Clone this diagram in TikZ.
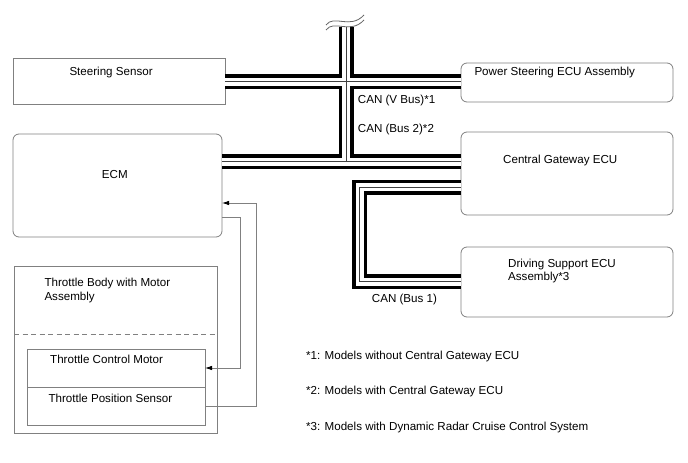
\documentclass[tikz,border=0pt]{standalone}
\usepackage{fontspec}
\setmainfont{Liberation Sans}
\usetikzlibrary{arrows.meta,calc}
\tikzset{
	box/.style={draw=black!50, line width=0.8pt, outer sep=0pt, inner sep=0pt},
	rbox/.style={box, rounded corners=6pt},
	txt/.style={inner sep=0pt, font=\fontsize{11.6}{13.3}\selectfont, align=left},
	sig/.style={draw=black!50, line width=0.8pt},
	busouter/.style={line width=15pt, black},
	businner/.style={line width=8pt, white},
	buscore/.style={line width=0.8pt, black!75},
	brk/.style={draw=black!60, line width=0.8pt},
	>={Latex[length=7pt,width=4.5pt,color=black]}
}

\begin{document}
\begin{tikzpicture}[x=1pt, y=-1pt]
	\path[fill=white, use as bounding box] (0,0) rectangle (688,463);
	\node[box, minimum width=212, minimum height=46] (ss) at (119,81) {};
	\node[rbox, minimum width=209, minimum height=103] (ecm) at (117.5,185.5) {};
	\node[rbox, minimum width=212, minimum height=39] (ps) at (567,82.5) {};
	\node[rbox, minimum width=212, minimum height=83] (cg) at (567,173.5) {};
	\node[rbox, minimum width=212, minimum height=70] (ds) at (567,282) {};
	\node[box, minimum width=203, minimum height=167] (tb) at (115.5,349.5) {};
	\node[box, minimum width=178, minimum height=38] (tcm) at (116,368) {};
	\node[box, minimum width=178, minimum height=38] (tps) at (116,406) {};
	\coordinate (dsh) at (0,334);
	\draw[box, dash pattern=on 5pt off 3.5pt] (tb.west |- dsh) -- (tb.east |- dsh);
	%	bus lines
	\coordinate (jtop) at (346,27);
	\coordinate (jx) at (346,81.5);
	\coordinate (jt) at (346,161.5);
	\coordinate (lpa) at (359.5,187);
	\coordinate (lpb) at (359.5,281.5);
	\foreach \layer in {busouter,businner,buscore} {
		\draw[\layer] (ss.east |- jx) -- (ps.west |- jx);
		\draw[\layer] (ecm.east |- jt) -- (cg.west |- jt);
		\draw[\layer] (jtop) -- (jt);
		\draw[\layer] (cg.west |- lpa) -- (lpa) -- (lpb) -- (ds.west |- lpb);
	}
	\draw[brk] (326,25) .. controls (334,14) and (350,30) .. (364,15);
	\draw[brk] (326,30) .. controls (334,19) and (350,35) .. (364,20);
	\draw[sig, ->] (tps.east) -- ++(51,0) |- ($(ecm.east)+(0,17.5)$);
	\draw[sig, ->] ($(ecm.east)+(0,31.5)$) -- ++(18,0) |- (tcm.east);
	\node[txt, anchor=base west] (sst) at (69.3,75) {Steering Sensor};
	\node[txt, anchor=base west] (ecmt) at (101.7,178.3) {ECM};
	\node[txt, anchor=base west] (pst) at (474.3,75.5) {Power Steering ECU Assembly};
	\node[txt, anchor=base west] (cgt) at (503,163) {Central Gateway ECU};
	\node[txt, anchor=west] (dst) at (508,271) {Driving Support ECU\\Assembly*3};
	\node[txt, anchor=west] (tbt) at (44.3,290.5) {Throttle Body with Motor\\Assembly};
	\node[txt, anchor=base west] (tcmt) at (50,363.3) {Throttle Control Motor};
	\node[txt, anchor=base west] (tpst) at (48.3,402.5) {Throttle Position Sensor};
	\node[txt, anchor=base west] (vbus) at (357.7,103.3) {CAN (V Bus)*1};
	\node[txt, anchor=base west] (bus2) at (357.7,132.5) {CAN (Bus 2)*2};
	\node[txt, anchor=base west] (bus1) at (371.7,302.5) {CAN (Bus 1)};
	\node[txt, anchor=base west] (fn1) at (306,359) {*1: Models without Central Gateway ECU};
	\node[txt, anchor=base west] (fn2) at (306,394.5) {*2: Models with Central Gateway ECU};
	\node[txt, anchor=base west] (fn3) at (306,430) {*3: Models with Dynamic Radar Cruise Control System};
\end{tikzpicture}
\end{document}
